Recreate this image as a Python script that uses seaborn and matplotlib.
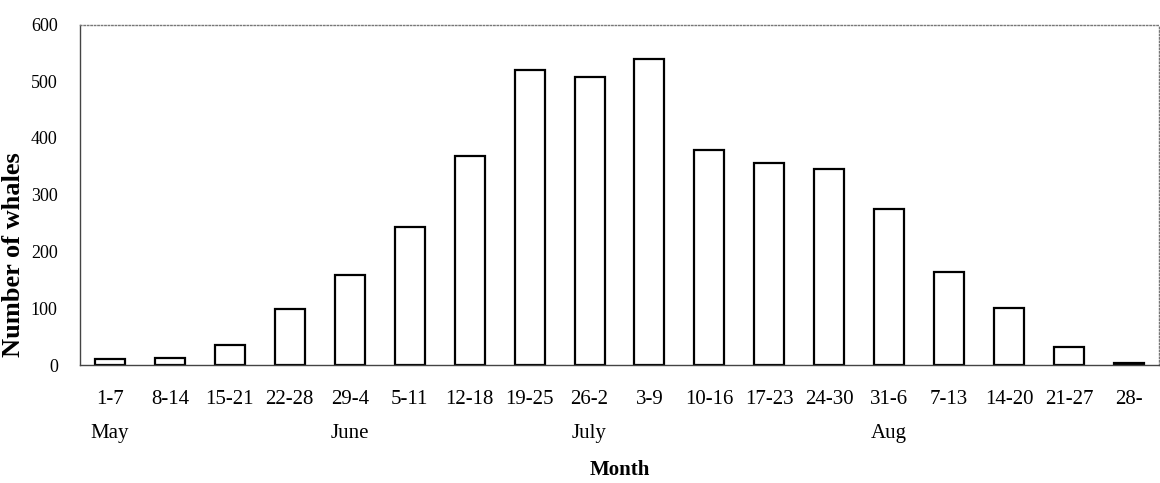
import matplotlib
matplotlib.use("Agg")
import matplotlib.pyplot as plt
import matplotlib.transforms as mtransforms
import seaborn as sns
import pandas as pd

weeks = ["1-7", "8-14", "15-21", "22-28", "29-4", "5-11", "12-18", "19-25", "26-2",
         "3-9", "10-16", "17-23", "24-30", "31-6", "7-13", "14-20", "21-27", "28-"]
whales = [10, 12, 36, 99, 159, 244, 368, 519, 508, 540, 378, 356, 346, 275, 163, 100, 32, 4]
month_names = ["May", "June", "July", "Aug"]
month_at_week = ["1-7", "29-4", "26-2", "31-6"]
y_ticks = [0, 100, 200, 300, 400, 500, 600]

sns.set_theme(style="white")
plt.rcParams["font.family"] = ["Liberation Serif", "DejaVu Serif"]
plt.rcParams["text.color"] = "black"
plt.rcParams["xtick.color"] = "black"
plt.rcParams["ytick.color"] = "black"

df = pd.DataFrame({"week": weeks, "whales": whales})

fig = plt.figure(figsize=(11.6, 4.83), dpi=100)
ax = fig.add_axes([80 / 1160, 1 - 365 / 483, 1079 / 1160, (365 - 24.5) / 483])

sns.barplot(data=df, x="week", y="whales", order=weeks, color="white",
            edgecolor="black", linewidth=1.6, width=0.5, ax=ax, saturation=1)

ax.set_xlim(-0.5, len(weeks) - 0.5)
ax.set_ylim(0, 600)
ax.set_yticks(y_ticks)
ax.set_yticklabels([str(v) for v in y_ticks], fontsize=13)
ax.tick_params(axis="y", length=0, pad=16)
ax.tick_params(axis="x", length=0, pad=18, labelsize=15)

for side in ["top", "right"]:
    ax.spines[side].set_visible(True)
    ax.spines[side].set_linestyle((0, (1, 1.5)))
    ax.spines[side].set_color("#777777")
    ax.spines[side].set_linewidth(1.0)
for side in ["left", "bottom"]:
    ax.spines[side].set_visible(True)
    ax.spines[side].set_color("#444444")
    ax.spines[side].set_linewidth(1.0)

trans = mtransforms.blended_transform_factory(ax.transData, ax.transAxes)
for name, wk in zip(month_names, month_at_week):
    ax.text(weeks.index(wk), -0.2, name, transform=trans, ha="center", va="center",
            fontsize=15)

ax.set_xlabel("")
ax.set_ylabel("")
fig.text(620 / 1160, 1 - 470 / 483, "Month", ha="center", va="center",
         fontsize=15, fontweight="bold")
fig.text(14 / 1160, 1 - 255 / 483, "Number of whales", ha="center", va="center",
         rotation=90, fontsize=19, fontweight="bold")

fig.savefig("out.png", dpi=100, facecolor="white")
